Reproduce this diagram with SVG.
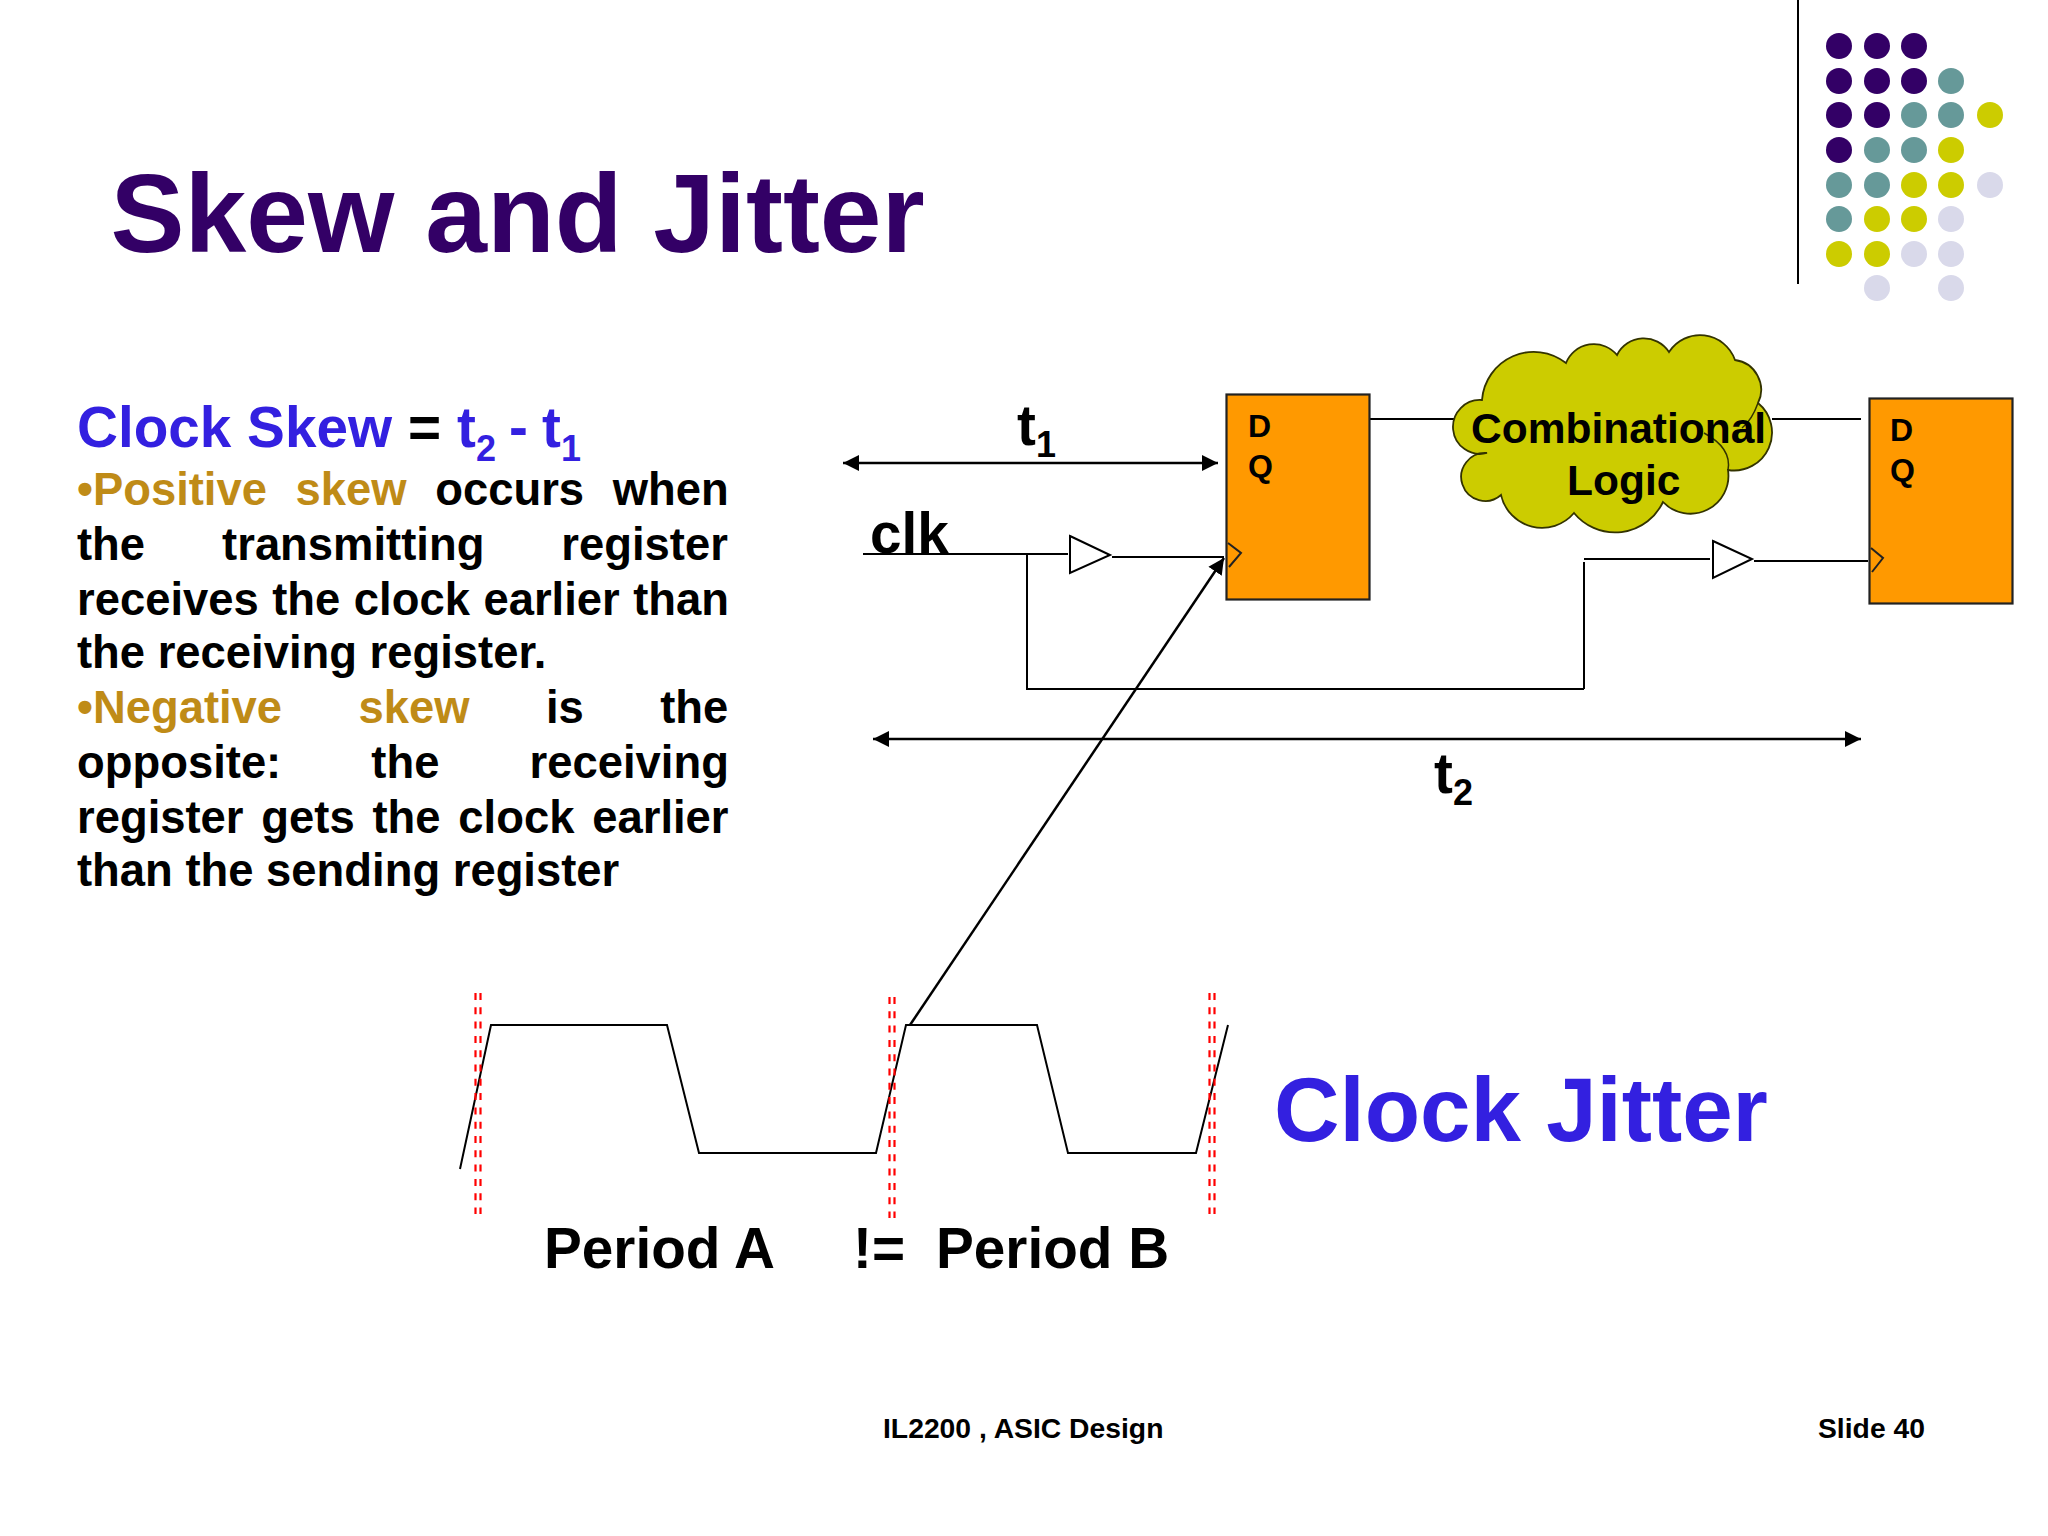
<svg xmlns="http://www.w3.org/2000/svg" width="2048" height="1536" viewBox="0 0 2048 1536">
<style>
text{font-family:"Liberation Sans",Arial,sans-serif;font-weight:700;fill:#000}
.blue{fill:#3320e0}
.gold{fill:#bf8b17}
.title{fill:#330066;font-size:111px}
.body{font-size:45.4px}
.h{font-size:56.7px}
.sub{font-size:36px}
.dq{font-size:32px}
.cl{font-size:42.5px}
.foot{font-size:28.3px}
.w{fill:none;stroke:#000;stroke-width:2}
.a{fill:none;stroke:#000;stroke-width:2.5}
.ff{fill:#ff9900;stroke:#222;stroke-width:2.2}
.ck{fill:none;stroke:#222;stroke-width:2}
.buf{fill:#fff;stroke:#000;stroke-width:2}
.r{fill:none;stroke:#f00;stroke-width:2.200;stroke-dasharray:7 7.300}
.p{fill:#330066}.t{fill:#669999}.y{fill:#cccc00}.l{fill:#d9d9ea}
</style>
<defs>
<marker id="ah" markerUnits="userSpaceOnUse" markerWidth="18" markerHeight="18" refX="16" refY="9" orient="auto-start-reverse"><path d="M0 1L16 9L0 17Z" fill="#000"/></marker>
</defs>
<rect width="2048" height="1536" fill="#fff"/>
<g id="decor">
<line x1="1798" y1="0" x2="1798" y2="284" stroke="#000" stroke-width="2"/>
<g>
<circle class="p" cx="1839" cy="46" r="13"/><circle class="p" cx="1877" cy="46" r="13"/><circle class="p" cx="1914" cy="46" r="13"/>
<circle class="p" cx="1839" cy="81" r="13"/><circle class="p" cx="1877" cy="81" r="13"/><circle class="p" cx="1914" cy="81" r="13"/><circle class="t" cx="1951" cy="81" r="13"/>
<circle class="p" cx="1839" cy="115" r="13"/><circle class="p" cx="1877" cy="115" r="13"/><circle class="t" cx="1914" cy="115" r="13"/><circle class="t" cx="1951" cy="115" r="13"/><circle class="y" cx="1990" cy="115" r="13"/>
<circle class="p" cx="1839" cy="150" r="13"/><circle class="t" cx="1877" cy="150" r="13"/><circle class="t" cx="1914" cy="150" r="13"/><circle class="y" cx="1951" cy="150" r="13"/>
<circle class="t" cx="1839" cy="185" r="13"/><circle class="t" cx="1877" cy="185" r="13"/><circle class="y" cx="1914" cy="185" r="13"/><circle class="y" cx="1951" cy="185" r="13"/><circle class="l" cx="1990" cy="185" r="13"/>
<circle class="t" cx="1839" cy="219" r="13"/><circle class="y" cx="1877" cy="219" r="13"/><circle class="y" cx="1914" cy="219" r="13"/><circle class="l" cx="1951" cy="219" r="13"/>
<circle class="y" cx="1839" cy="254" r="13"/><circle class="y" cx="1877" cy="254" r="13"/><circle class="l" cx="1914" cy="254" r="13"/><circle class="l" cx="1951" cy="254" r="13"/>
<circle class="l" cx="1877" cy="288" r="13"/><circle class="l" cx="1951" cy="288" r="13"/>
</g>
</g>
<text id="title" class="title" x="110.500" y="252">Skew and Jitter</text>
<g id="skew-text">
<text class="h" x="77" y="447"><tspan class="blue">Clock Skew</tspan><tspan x="408">=</tspan><tspan class="blue" x="457">t</tspan><tspan class="blue sub" dy="14">2</tspan><tspan class="blue" x="509" dy="-14">-</tspan><tspan class="blue" x="542">t</tspan><tspan class="blue sub" dy="14">1</tspan></text>
<text class="body" x="77" y="504.500" word-spacing="16">
<tspan class="gold">•Positive skew</tspan> occurs when</text>
<text class="body" x="77" y="559.500" word-spacing="64.4">the transmitting register</text>
<text class="body" x="77" y="614.500" word-spacing="0.900">receives the clock earlier than</text>
<text class="body" x="77" y="667.500">the receiving register.</text>
<text class="body" x="77" y="722.500" word-spacing="63.800"><tspan class="gold">•Negative skew</tspan> is the</text>
<text class="body" x="77" y="777.500" word-spacing="77.500">opposite: the receiving</text>
<text class="body" x="77" y="832.500" word-spacing="5.200">register gets the clock earlier</text>
<text class="body" x="77" y="885.500">than the sending register</text>
</g>
<g id="connectors">
<path class="w" d="M863 554H1068"/>
<path class="w" d="M1112 557H1224"/>
<path class="w" d="M1027 554V689H1584"/>
<path class="w" d="M1584 689V562"/>
<path class="w" d="M1584 559H1710"/>
<path class="w" d="M1754 561H1868"/>
<path class="w" d="M1370 419H1456"/>
<path class="w" d="M1772 419H1861"/>
<path class="a" d="M843 463H1218" marker-start="url(#ah)" marker-end="url(#ah)"/>
<path class="a" d="M873 739H1861" marker-start="url(#ah)" marker-end="url(#ah)"/>
<path class="a" d="M910 1025L1224 558" marker-end="url(#ah)"/>
<path class="w" id="waveform" d="M460 1169L491 1025H667L699 1153H876L906 1025H1037L1068 1153H1196L1228 1025"/>
<path class="r" d="M475.500 993V1214M480.500 993V1214M889.500 997V1218M894.500 997V1218M1209.500 993V1214M1214.500 993V1214"/>
</g>
<g id="ff1">
<rect class="ff" x="1226.500" y="394.500" width="143" height="205"/>
<path class="ck" d="M1228 543L1241 553L1229 567"/>
<text class="dq" x="1248" y="437">D</text>
<text class="dq" x="1248" y="477">Q</text>
</g>
<g id="ff2">
<rect class="ff" x="1869.500" y="398.500" width="143" height="205"/>
<path class="ck" d="M1871 548L1883 558L1872 572"/>
<text class="dq" x="1890" y="441">D</text>
<text class="dq" x="1890" y="481">Q</text>
</g>
<g id="buf1"><path class="buf" d="M1070 536L1110 555L1070 573Z"/></g>
<g id="buf2"><path class="buf" d="M1713 541L1752 559L1713 578Z"/></g>
<g id="cloud">
<path d="M1482 400A52 52 0 0 1 1566 363A30 30 0 0 1 1617 355A30 30 0 0 1 1669 352A37 37 0 0 1 1735 360A30 30 0 0 1 1758 403A38 38 0 0 1 1728 470A38 38 0 0 1 1663 502A53 53 0 0 1 1574 513A42 42 0 0 1 1501 495A24 24 0 1 1 1487 453A27 27 0 1 1 1482 400Z" fill="#cccc00" stroke="#333300" stroke-width="1.800"/>
<path d="M1704 433Q1732 448 1728 470M1758 403Q1752 420 1742 428" fill="none" stroke="#333300" stroke-width="1.500"/>
<text class="cl" x="1471" y="443">Combinational</text>
<text class="cl" x="1567" y="495">Logic</text>
</g>
<text id="t1" class="h" x="1017" y="445">t<tspan class="sub" dy="12">1</tspan></text>
<text id="clk" class="h" x="870" y="553">clk</text>
<text id="t2" class="h" x="1434" y="793">t<tspan class="sub" dy="12">2</tspan></text>
<g id="jitter-labels">
<text class="h" x="544" y="1268">Period A</text>
<text class="h" x="853" y="1268">!=</text>
<text class="h" x="936" y="1268">Period B</text>
<text class="blue" style="font-size:90.7px" x="1274" y="1141">Clock Jitter</text>
</g>
<g id="footer">
<text class="foot" x="883" y="1438">IL2200 , ASIC Design</text>
<text class="foot" x="1818" y="1438">Slide 40</text>
</g>
</svg>
